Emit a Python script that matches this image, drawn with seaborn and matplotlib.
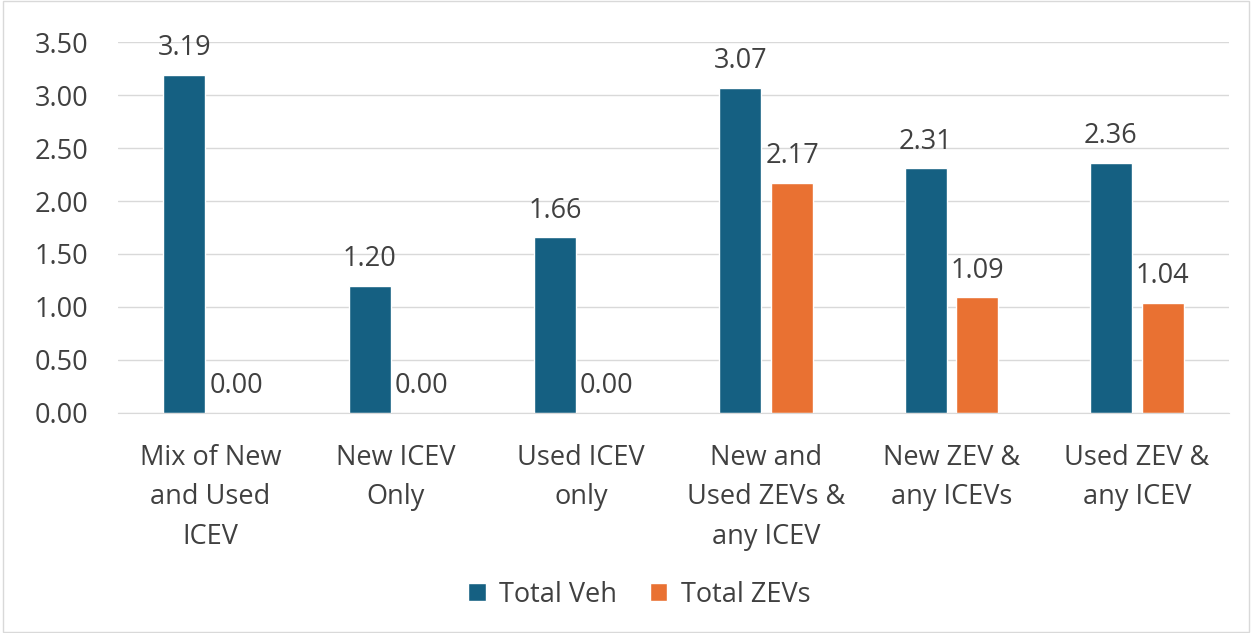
import matplotlib
matplotlib.use("Agg")
import matplotlib.pyplot as plt
import pandas as pd
import seaborn as sns

# Data
categories = ["Mix of New\nand Used\nICEV", "New ICEV\nOnly", "Used ICEV\nonly",
              "New and\nUsed ZEVs &\nany ICEV", "New ZEV &\nany ICEVs", "Used ZEV &\nany ICEV"]
total_veh = [3.19, 1.20, 1.66, 3.07, 2.31, 2.36]
total_zevs = [0.00, 0.00, 0.00, 2.17, 1.09, 1.04]
series = ["Total Veh", "Total ZEVs"]
colors = ["#156082", "#E97132"]

df = pd.DataFrame({
    "category": categories * 2,
    "value": total_veh + total_zevs,
    "series": [series[0]] * len(categories) + [series[1]] * len(categories),
})

sns.set_style("white")
plt.rcParams["font.family"] = ["Open Sans", "DejaVu Sans"]
text_color = "#404040"
fs = 19.5

fig = plt.figure(figsize=(12.52, 6.33), dpi=100)
ax = fig.add_axes([0.094, 0.3476, 0.888, 0.586])

sns.barplot(data=df, x="category", y="value", hue="series", palette=colors,
            saturation=1, width=0.56, gap=0.19, ax=ax, legend=True)

ax.set_ylim(0, 3.5)
ax.set_yticks([0, 0.5, 1.0, 1.5, 2.0, 2.5, 3.0, 3.5])
ax.set_yticklabels([f"{v:.2f}" for v in ax.get_yticks()])
ax.yaxis.grid(True, color="#D9D9D9", linewidth=1)
ax.set_axisbelow(True)
for s in ["top", "right", "left"]:
    ax.spines[s].set_visible(False)
ax.spines["bottom"].set_color("#D9D9D9")
ax.tick_params(axis="both", length=0, labelsize=fs, colors=text_color)
ax.tick_params(axis="y", pad=21)
ax.tick_params(axis="x", pad=22)
for lab in ax.get_xticklabels():
    lab.set_linespacing(1.55)
ax.set_xlabel("")
ax.set_ylabel("")

for container in ax.containers:
    ax.bar_label(container, fmt="%.2f", fontsize=fs, color=text_color, padding=9)

leg = ax.legend(loc="center", bbox_to_anchor=(0.469, -0.49), ncol=2,
                frameon=False, fontsize=fs, handlelength=0.65, handleheight=0.65,
                columnspacing=1.2, handletextpad=0.5)
for t in leg.get_texts():
    t.set_color(text_color)

# figure border
fig.patches.append(plt.Rectangle((0.002, 0.002), 0.996, 0.996, transform=fig.transFigure,
                                 fill=False, edgecolor="#D9D9D9", linewidth=1))

fig.savefig("out.png", dpi=100)
